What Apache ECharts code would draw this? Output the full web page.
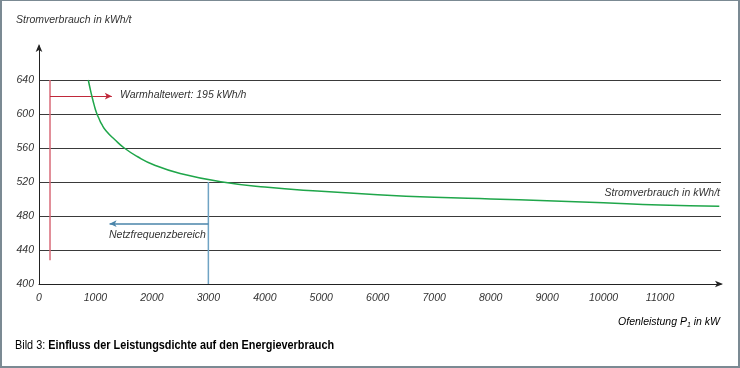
<!DOCTYPE html>
<html><head><meta charset="utf-8">
<script src="https://cdn.jsdelivr.net/npm/echarts@6/dist/echarts.min.js"></script>
<style>
html,body{margin:0;padding:0;background:#fff;}
#wrap{position:relative;width:740px;height:368px;}
#chart{position:absolute;left:0;top:0;width:740px;height:368px;}
#frame{position:absolute;left:0;top:0;width:740px;height:368px;box-sizing:border-box;border:2px solid #7b8a93;border-top-width:1px;pointer-events:none;}
</style></head>
<body><div id="wrap"><div id="chart"></div><div id="frame"></div></div>
<script>
// Data
const powerKW = [873, 905, 940, 975, 1015, 1060, 1110, 1190, 1340, 1510, 1740, 2040, 2500, 3250, 4000, 5000, 6000, 7000, 8000, 9000, 10000, 11000, 12050];
const consumption = [640, 630, 620, 611, 602, 595, 588, 580, 570, 560, 550, 540, 530, 520, 514, 509, 505, 502, 500, 498, 495.5, 493, 491.5];
const xTicks = [0,1000,2000,3000,4000,5000,6000,7000,8000,9000,10000,11000];
const yTicks = [400,440,480,520,560,600,640];
const warmVertical = [[195, 428], [195, 640]];
const warmArrow = [[195, 621], [1290, 621]];
const netzVertical = [[3000, 400], [3000, 520]];
const netzArrow = [[3000, 471], [1250, 471]];

const ital = {fontFamily:'Liberation Sans, Arial, sans-serif', fontStyle:'italic', fontSize:10.5, color:'#333'};
const chart = echarts.init(document.getElementById('chart'), null, {renderer:'canvas'});
const gridColors = yTicks.map(()=> '#3a3a3a').concat(['rgba(0,0,0,0)']);
chart.setOption({
  animation:false,
  grid:{left:39, right:19, top:46, bottom:84},
  xAxis:{type:'value', min:0, max:12080, interval:1000,
    axisLine:{show:true, lineStyle:{color:'#222', width:1}, symbol:['none','arrow'], symbolSize:[5,8], symbolOffset:[0,2]},
    axisTick:{show:false}, splitLine:{show:false},
    axisLabel:Object.assign({margin:9, showMaxLabel:false, formatter:v=> xTicks.includes(v)? String(v):''}, ital)},
  yAxis:{type:'value', min:400, max:680, interval:40,
    axisLine:{show:true, lineStyle:{color:'#222', width:1}, symbol:['none','arrow'], symbolSize:[5,8], symbolOffset:[0,2]},
    axisTick:{show:false},
    splitLine:{show:true, lineStyle:{color:gridColors, width:1.2}},
    axisLabel:Object.assign({margin:5, formatter:v=> yTicks.includes(v)? String(v):''}, ital)},
  series:[
    {type:'line', data:powerKW.map((x,i)=>[x,consumption[i]]), smooth:0.5, showSymbol:false,
     lineStyle:{color:'#1fa64a', width:1.5}, z:5},
    {type:'line', data:warmVertical, showSymbol:false, lineStyle:{color:'#d86a78', width:1.5}, z:4},
    {type:'line', data:netzVertical, showSymbol:false, lineStyle:{color:'#6fa3c4', width:1.5}, z:4,
     markLine:{silent:true, animation:false, label:{show:false},
       data:[
         [{coord:warmArrow[0], symbol:'none', lineStyle:{color:'#c0283a', width:1.2, type:'solid'}},
          {coord:warmArrow[1], symbol:'arrow', symbolSize:[5,7]}],
         [{coord:netzArrow[0], symbol:'none', lineStyle:{color:'#4a85aa', width:1.5, type:'solid'}},
          {coord:netzArrow[1], symbol:'arrow', symbolSize:[5,7]}]
       ]}}
  ],
  graphic:[
    {type:'text', left:16, top:15, style:{text:'Stromverbrauch in kWh/t', fill:'#333', font:'italic 10.5px Liberation Sans, Arial, sans-serif'}},
    {type:'text', left:120, top:90, style:{text:'Warmhaltewert: 195 kWh/h', fill:'#333', font:'italic 10.5px Liberation Sans, Arial, sans-serif'}},
    {type:'text', left:109, top:230, style:{text:'Netzfrequenzbereich', fill:'#333', font:'italic 10.5px Liberation Sans, Arial, sans-serif'}},
    {type:'text', right:20, top:188, style:{text:'Stromverbrauch in kWh/t', fill:'#333', font:'italic 10.5px Liberation Sans, Arial, sans-serif'}},
    {type:'text', right:20, top:317, style:{text:'{a|Ofenleistung P}{s|1}{a| in kW}', rich:{
      a:{fontFamily:'Liberation Sans, Arial, sans-serif', fontStyle:'italic', fontSize:10.5, color:'#333'},
      s:{fontFamily:'Liberation Sans, Arial, sans-serif', fontStyle:'italic', fontSize:7, color:'#333', padding:[6,0,0,0]}}}},
    {type:'text', x:15, y:339, scaleX:0.87, style:{text:'{b|Bild 3: }{c|Einfluss der Leistungsdichte auf den Energieverbrauch}', rich:{
      b:{fontFamily:'Liberation Sans, Arial, sans-serif', fontSize:12.5, color:'#6b8ea5'},
      c:{fontFamily:'Liberation Sans, Arial, sans-serif', fontSize:12.5, fontWeight:'bold', color:'#1e1e1e'}}}}
  ]
});
</script></body></html>
